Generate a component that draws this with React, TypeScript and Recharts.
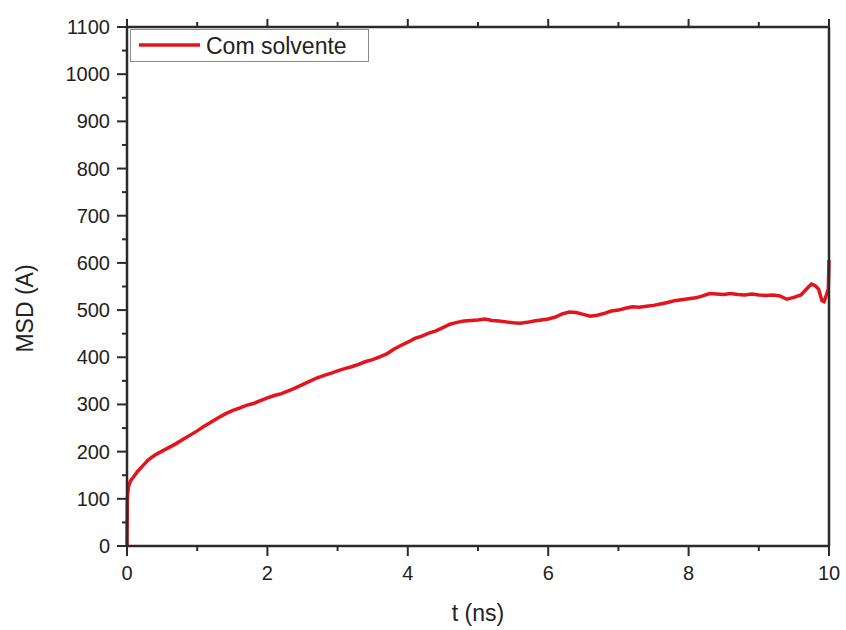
import { LineChart, Line, XAxis, YAxis, Legend } from "recharts";

const times = [
  0, 0.005, 0.02, 0.05, 0.1, 0.15, 0.2, 0.25, 0.3, 0.35, 0.4, 0.5, 0.6, 0.7, 0.8, 0.9,
  1.0, 1.1, 1.2, 1.3, 1.4, 1.5, 1.6, 1.7, 1.8, 1.9, 2.0, 2.1, 2.2, 2.3, 2.4, 2.5,
  2.6, 2.7, 2.8, 2.9, 3.0, 3.1, 3.2, 3.3, 3.4, 3.5, 3.6, 3.7, 3.8, 3.9, 4.0, 4.1,
  4.2, 4.3, 4.4, 4.5, 4.6, 4.7, 4.8, 4.9, 5.0, 5.1, 5.2, 5.3, 5.4, 5.5, 5.6, 5.7,
  5.8, 5.9, 6.0, 6.1, 6.2, 6.3, 6.4, 6.5, 6.6, 6.7, 6.8, 6.9, 7.0, 7.1, 7.2, 7.3,
  7.4, 7.5, 7.6, 7.7, 7.8, 7.9, 8.0, 8.1, 8.2, 8.3, 8.4, 8.5, 8.6, 8.7, 8.8, 8.9,
  9.0, 9.1, 9.2, 9.3, 9.4, 9.5, 9.6, 9.7, 9.75, 9.8, 9.85, 9.9, 9.93, 9.97, 9.99, 10.0,
];

const msd = [
  0, 100, 125, 138, 148, 158, 166, 174, 182, 188, 193, 201, 209, 217, 226, 235,
  244, 254, 263, 272, 280, 287, 292, 298, 302, 308, 314, 319, 323, 329, 335, 342,
  349, 356, 361, 366, 371, 376, 380, 385, 391, 395, 401, 407, 417, 425, 432, 440,
  445, 451, 456, 463, 470, 474, 477, 478, 479, 481, 478, 477, 475, 473, 472, 474,
  477, 479, 481, 485, 492, 496, 495, 491, 487, 489, 493, 498, 500, 504, 507, 506,
  508, 510, 513, 516, 520, 522, 524, 526, 530, 535, 534, 533, 535, 533, 532, 534,
  532, 531, 532, 530, 523, 527, 532, 548, 555, 552, 545, 520, 518, 535, 545, 606,
];

const yTicks = Array.from({ length: 23 }, (_, i) => i * 50);
const xTicks = [0, 1, 2, 3, 4, 5, 6, 7, 8, 9, 10];

const data = times.map((t, i) => ({ t, msd: msd[i] }));

const font = "'Liberation Sans', Arial, sans-serif";
const axisColor = "#2b2b2b";

const LeftTick = (props: any) => {
  const { x, y, payload } = props;
  const major = payload.value % 100 === 0;
  return (
    <g>
      <line x1={x} x2={x - (major ? 10 : 5)} y1={y} y2={y} stroke={axisColor} strokeWidth={2} />
      {major && (
        <text x={x - 17} y={y} textAnchor="end" dominantBaseline="central" fontSize={20} fill="#222" fontFamily={font}>
          {payload.value}
        </text>
      )}
    </g>
  );
};

const BottomTick = (props: any) => {
  const { x, y, payload } = props;
  const major = payload.value % 2 === 0;
  return (
    <g>
      <line x1={x} x2={x} y1={y} y2={y + (major ? 10 : 5)} stroke={axisColor} strokeWidth={2} />
      {major && (
        <text x={x} y={y + 34} textAnchor="middle" fontSize={20} fill="#222" fontFamily={font}>
          {payload.value}
        </text>
      )}
    </g>
  );
};

const TopTick = (props: any) => {
  const { x, y, payload } = props;
  const major = payload.value % 2 === 0;
  return <line x1={x} x2={x} y1={y} y2={y - (major ? 8 : 5)} stroke={axisColor} strokeWidth={2} />;
};

const LegendBox = () => (
  <svg width={240} height={34} style={{ display: "block" }}>
    <rect x={0.5} y={0.5} width={238} height={32} fill="#fff" stroke="#8a8a8a" strokeWidth={1} />
    <line x1={9} x2={70} y1={16} y2={16} stroke="#e3141b" strokeWidth={3.5} />
    <text x={76} y={25} fontSize={23} fill="#222" fontFamily={font}>
      Com solvente
    </text>
  </svg>
);

export default function App() {
  return (
    <div style={{ position: "absolute", left: 0, top: 0 }}>
      <LineChart width={846} height={630} data={data} margin={{ top: 26, right: 16, bottom: 0, left: 0 }}>
        <XAxis
          dataKey="t"
          type="number"
          domain={[0, 10]}
          ticks={xTicks}
          interval={0}
          tickSize={0}
          tickMargin={0}
          tick={<BottomTick />}
          height={84}
          stroke={axisColor}
          strokeWidth={2.5}
          label={{
            content: ({ viewBox }: any) => (
              <text x={viewBox.x + viewBox.width / 2} y={viewBox.y + 75} textAnchor="middle" fontSize={23} fill="#222" fontFamily={font}>
                t (ns)
              </text>
            ),
          }}
        />
        <XAxis
          xAxisId="top"
          orientation="top"
          dataKey="t"
          type="number"
          domain={[0, 10]}
          ticks={xTicks}
          interval={0}
          tickSize={0}
          tickMargin={0}
          tick={<TopTick />}
          height={1}
          stroke={axisColor}
          strokeWidth={2.5}
        />
        <YAxis
          type="number"
          domain={[0, 1100]}
          ticks={yTicks}
          interval={0}
          tickSize={0}
          tickMargin={0}
          tick={<LeftTick />}
          width={127}
          stroke={axisColor}
          strokeWidth={2.5}
          allowDataOverflow
          label={{
            content: ({ viewBox }: any) => {
              const cx = 25;
              const cy = viewBox.y + viewBox.height / 2 + 22;
              return (
                <text
                  x={cx}
                  y={cy}
                  transform={`rotate(-90, ${cx}, ${cy})`}
                  textAnchor="middle"
                  dominantBaseline="central"
                  fontSize={23}
                  fill="#222"
                  fontFamily={font}
                >
                  MSD (A)
                </text>
              );
            },
          }}
        />
        <YAxis
          yAxisId="right"
          orientation="right"
          type="number"
          domain={[0, 1100]}
          tick={false}
          tickLine={false}
          width={1}
          stroke={axisColor}
          strokeWidth={2.5}
          allowDataOverflow
        />
        <Legend
          verticalAlign="middle"
          align="center"
          layout="horizontal"
          content={<LegendBox />}
          wrapperStyle={{ top: 29, left: 130, width: 240 }}
        />
        <Line
          xAxisId="top"
          yAxisId="right"
          dataKey="msd"
          stroke="none"
          dot={false}
          legendType="none"
          isAnimationActive={false}
        />
        <Line
          dataKey="msd"
          type="linear"
          stroke="#e3141b"
          strokeWidth={3.5}
          dot={false}
          isAnimationActive={false}
        />
      </LineChart>
    </div>
  );
}
